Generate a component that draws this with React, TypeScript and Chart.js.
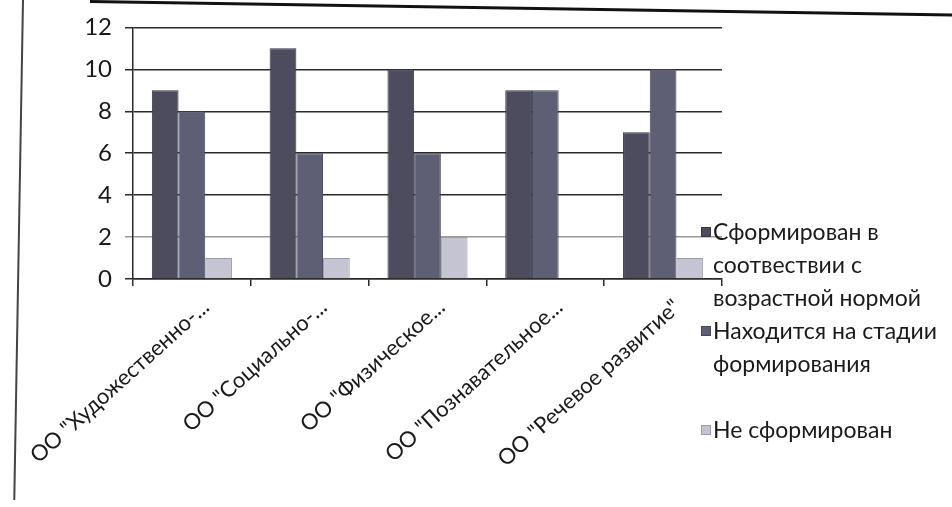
import React, { useEffect, useRef } from "react";
import { Chart, registerables } from "chart.js";

Chart.register(...registerables);

const categories = [
  'ОО "Художественно-...',
  'ОО "Социально-...',
  'ОО "Физическое...',
  'ОО "Познавательное...',
  'ОО "Речевое развитие"',
];
const formedNorm = [9, 11, 10, 9, 7];
const formingStage = [8, 6, 6, 9, 10];
const notFormed = [1, 1, 2, 0, 1];
const seriesNames = [
  "Сформирован в соотвествии с возрастной нормой",
  "Находится на стадии формирования",
  "Не сформирован",
];
const legendLines = [
  ["Сформирован в", "соотвествии с", "возрастной нормой"],
  ["Находится на стадии", "формирования"],
  ["", "Не сформирован"],
];
const seriesColors = ["#4c4c5e", "#5e5e74", "#c4c4d2"];
const seriesEdge = ["#36364a", "#46465a", "#9a9aac"];
const yMin = 0;
const yMax = 12;
const yStep = 2;

const FONT = "Lato, 'Open Sans', sans-serif";

export default function App() {
  const ref = useRef<HTMLCanvasElement | null>(null);

  useEffect(() => {
    if (!ref.current) return;
    const data = [formedNorm, formingStage, notFormed];
    const chart = new Chart(ref.current, {
      type: "bar",
      data: {
        labels: categories,
        datasets: data.map((d, i) => ({
          label: seriesNames[i],
          data: d,
          backgroundColor: seriesColors[i],
          borderColor: seriesEdge[i],
          borderWidth: 1,
          categoryPercentage: 0.68,
          barPercentage: 1.0,
        })),
      },
      options: {
        responsive: false,
        animation: false,
        layout: { padding: { left: 0, right: 230, top: 19, bottom: 0 } },
        plugins: {
          legend: { display: false },
          tooltip: { enabled: false },
        },
        scales: {
          x: {
            grid: {
              offset: true,
              drawOnChartArea: false,
              drawTicks: true,
              tickLength: 7,
              color: "#2a2a2a",
              lineWidth: 1.5,
            },
            border: { color: "#2a2a2a", width: 1.5 },
            ticks: {
              maxRotation: 42,
              minRotation: 42,
              autoSkip: false,
              labelOffset: 14,
              padding: 8,
              color: "#1a1a1a",
              font: { family: FONT, size: 22 },
            },
            afterFit(axis: any) {
              axis.height = 228;
              axis.paddingLeft = 0;
              axis.paddingRight = 0;
            },
          },
          y: {
            min: yMin,
            max: yMax,
            ticks: {
              stepSize: yStep,
              color: "#1a1a1a",
              padding: 13,
              font: { family: FONT, size: 24 },
            },
            grid: {
              color: (c: any) => (c.tick && c.tick.value === 2 ? "#9a9a9a" : "#2a2a2a"),
              lineWidth: 1.5,
              tickLength: 8,
            },
            border: { color: "#2a2a2a", width: 1.5 },
            afterFit(axis: any) {
              axis.width = 133;
            },
          },
        },
      },
    });
    return () => chart.destroy();
  }, []);

  return (
    <div
      style={{
        position: "fixed",
        left: 0,
        top: 0,
        width: 952,
        height: 507,
        background: "#fff",
        overflow: "hidden",
      }}
    >
      <canvas ref={ref} width={952} height={507} style={{ position: "absolute", left: 0, top: 0 }} />
      <div
        style={{
          position: "absolute",
          left: 90,
          top: 0,
          width: 900,
          height: 3,
          background: "#111",
          transformOrigin: "0 0",
          transform: "rotate(0.9deg)",
        }}
      />
      <div
        style={{
          position: "absolute",
          left: 22,
          top: 0,
          width: 2,
          height: 500,
          background: "#444",
          transformOrigin: "0 0",
          transform: "rotate(1deg)",
        }}
      />
      <div
        style={{
          position: "absolute",
          left: 701,
          top: 215,
          fontFamily: FONT,
          fontSize: 23,
          lineHeight: "33px",
          color: "#1a1a1a",
          whiteSpace: "nowrap",
        }}
      >
        {legendLines.map((lines, i) => (
          <div key={i} style={{ position: "relative" }}>
            {lines.map((ln, j) => (
              <div key={j} style={{ paddingLeft: 12, height: 33 }}>
                {ln}
              </div>
            ))}
            <span
              style={{
                position: "absolute",
                left: 0,
                top: (lines[0] === "" ? 33 : 0) + 12,
                width: 10,
                height: 10,
                background: seriesColors[i],
                border: `1px solid ${seriesEdge[i]}`,
                boxSizing: "border-box",
              }}
            />
          </div>
        ))}
      </div>
    </div>
  );
}
